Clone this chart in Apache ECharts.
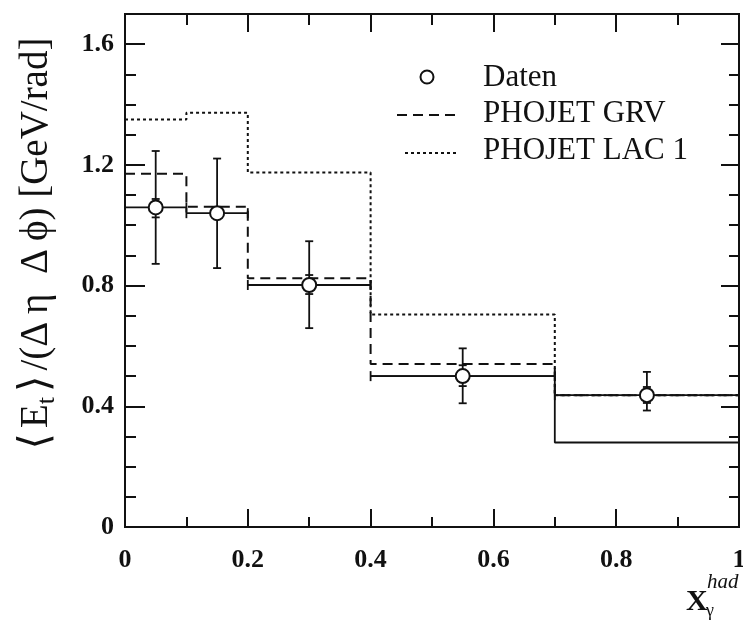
<!DOCTYPE html>
<html>
<head>
<meta charset="utf-8">
<script src="https://cdn.jsdelivr.net/npm/echarts@6/dist/echarts.min.js"></script>
<style>
  html, body { margin: 0; padding: 0; background: #fff; }
  #chart { width: 743px; height: 625px; }
</style>
</head>
<body>
<div id="chart"></div>
<script>
// bins in x_gamma^had
const binLo = [0, 0.1, 0.2, 0.4, 0.7];
const binHi = [0.1, 0.2, 0.4, 0.7, 1.0];
const binCenter = [0.05, 0.15, 0.3, 0.55, 0.85];

// Daten with total and statistical errors
const daten = [1.059, 1.040, 0.802, 0.500, 0.437];
const totLo = [0.872, 0.858, 0.659, 0.410, 0.386];
const totHi = [1.246, 1.221, 0.947, 0.592, 0.514];
const statLo = [1.026, 1.020, 0.772, 0.467, 0.411];
const statHi = [1.087, 1.060, 0.835, 0.536, 0.464];

// model histograms
const grv = [1.171, 1.061, 0.824, 0.540, 0.437];
const lac1 = [1.350, 1.373, 1.175, 0.704, 0.437];
const solidLow = [null, null, null, 0.500, 0.280];

const xTicks = ['0', '0.2', '0.4', '0.6', '0.8', '1'];
const yTicks = ['0', '0.4', '0.8', '1.2', '1.6'];

const serif = "'Liberation Serif', 'DejaVu Serif', serif";
const black = '#111';

function stepData(vals) {
  const pts = [];
  vals.forEach((v, i) => {
    if (v == null) return;
    pts.push([binLo[i], v]);
  });
  const last = vals.length - 1;
  pts.push([binHi[last], vals[last]]);
  return pts;
}

const datenRows = daten.map((v, i) =>
  [binLo[i], binHi[i], binCenter[i], v, totLo[i], totHi[i], statLo[i], statHi[i]]);

const chart = echarts.init(document.getElementById('chart'), null, { renderer: 'canvas' });

function xAxisDef(pos, interval, len, labels) {
  return {
    type: 'value', min: 0, max: 1, interval: interval, position: pos,
    axisLine: { show: true, onZero: false, lineStyle: { color: black, width: 2 } },
    axisTick: { show: true, inside: true, length: len, lineStyle: { color: black, width: 2 } },
    splitLine: { show: false },
    axisLabel: labels ? {
      show: true, margin: 20, color: black, fontFamily: serif, fontWeight: 'bold', fontSize: 26,
      formatter: v => { const s = xTicks.find(t => Math.abs(parseFloat(t) - v) < 1e-6); return s || ''; }
    } : { show: false }
  };
}

function yAxisDef(pos, interval, len, labels) {
  return {
    type: 'value', min: 0, max: 1.7, interval: interval, position: pos,
    axisLine: { show: true, onZero: false, lineStyle: { color: black, width: 2 } },
    axisTick: { show: true, inside: true, length: len, lineStyle: { color: black, width: 2 } },
    splitLine: { show: false },
    axisLabel: labels ? {
      show: true, margin: 11, color: black, fontFamily: serif, fontWeight: 'bold', fontSize: 26,
      formatter: v => { const s = yTicks.find(t => Math.abs(parseFloat(t) - v) < 1e-6); return s || ''; }
    } : { show: false }
  };
}

const option = {
  animation: false,
  backgroundColor: '#fff',
  grid: { left: 125, right: 4, top: 14, bottom: 98, outerBoundsMode: 'none' },
  xAxis: [
    xAxisDef('bottom', 0.2, 18, true),
    xAxisDef('bottom', 0.1, 10, false),
    xAxisDef('top', 0.2, 18, false),
    xAxisDef('top', 0.1, 11, false)
  ],
  yAxis: [
    yAxisDef('left', 0.4, 20, true),
    yAxisDef('left', 0.1, 11, false),
    yAxisDef('right', 0.4, 18, false),
    yAxisDef('right', 0.1, 10, false)
  ],
  series: [
    {
      name: 'PHOJET LAC 1', type: 'line', step: 'end', symbol: 'none',
      data: stepData(lac1),
      lineStyle: { color: black, width: 2, type: [3, 3] }
    },
    {
      name: 'PHOJET GRV', type: 'line', step: 'end', symbol: 'none',
      data: stepData(grv),
      lineStyle: { color: black, width: 2, type: [10, 6] }
    },
    {
      name: 'solid', type: 'line', step: 'end', symbol: 'none',
      data: stepData(solidLow),
      lineStyle: { color: black, width: 1.8 }
    },
    {
      name: 'Daten', type: 'custom',
      data: datenRows,
      encode: { x: [0, 1, 2], y: [3, 4, 5, 6, 7] },
      z: 10,
      renderItem: function (params, api) {
        const pLo = api.coord([api.value(0), api.value(3)]);
        const pHi = api.coord([api.value(1), api.value(3)]);
        const c = api.coord([api.value(2), api.value(3)]);
        const tLo = api.coord([api.value(2), api.value(4)]);
        const tHi = api.coord([api.value(2), api.value(5)]);
        const sLo = api.coord([api.value(2), api.value(6)]);
        const sHi = api.coord([api.value(2), api.value(7)]);
        const st = { stroke: black, lineWidth: 1.8 };
        const ln = (x1, y1, x2, y2) => ({ type: 'line', shape: { x1, y1, x2, y2 }, style: st });
        return {
          type: 'group',
          children: [
            ln(pLo[0], pLo[1], pHi[0], pHi[1]),
            ln(pLo[0], pLo[1] - 5, pLo[0], pLo[1] + 5),
            ln(pHi[0], pHi[1] - 5, pHi[0], pHi[1] + 5),
            ln(tLo[0], tLo[1], tHi[0], tHi[1]),
            ln(tLo[0] - 4, tLo[1], tLo[0] + 4, tLo[1]),
            ln(tHi[0] - 4, tHi[1], tHi[0] + 4, tHi[1]),
            ln(sLo[0] - 4, sLo[1], sLo[0] + 4, sLo[1]),
            ln(sHi[0] - 4, sHi[1], sHi[0] + 4, sHi[1]),
            { type: 'circle', shape: { cx: c[0], cy: c[1], r: 7 }, style: { fill: '#fff', stroke: black, lineWidth: 2 } }
          ]
        };
      }
    }
  ],
  graphic: [
    // y axis title
    {
      type: 'text', x: 37, y: 246, rotation: Math.PI / 2,
      style: {
        text: '{b|⟨}{a|E}{s|t}{b|⟩}{a|/(Δ\u2009η  Δ\u2009ϕ) [GeV/rad]}',
        align: 'center', verticalAlign: 'middle',
        rich: {
          a: { fontFamily: serif, fontSize: 39, fill: black, lineHeight: 46 },
          b: { fontFamily: serif, fontSize: 42, fill: black, lineHeight: 46, padding: [0, 5, 0, 5] },
          s: { fontFamily: serif, fontSize: 26, fill: black, lineHeight: 28, verticalAlign: 'bottom' }
        }
      }
    },
    // legend
    { type: 'circle', shape: { cx: 427, cy: 77, r: 6.5 }, style: { fill: '#fff', stroke: black, lineWidth: 2 } },
    { type: 'text', left: 483, top: 62, style: { text: 'Daten', font: '31px ' + serif, fill: black } },
    { type: 'line', shape: { x1: 397, y1: 115, x2: 457, y2: 115 }, style: { stroke: black, lineWidth: 2, lineDash: [10, 6] } },
    { type: 'text', left: 483, top: 98, style: { text: 'PHOJET GRV', font: '31px ' + serif, fill: black } },
    { type: 'line', shape: { x1: 405, y1: 153, x2: 457, y2: 153 }, style: { stroke: black, lineWidth: 2, lineDash: [3, 3] } },
    { type: 'text', left: 483, top: 135, style: { text: 'PHOJET LAC 1', font: '31px ' + serif, fill: black } },
    // x axis title
    { type: 'text', left: 686, top: 587, style: { text: 'X', font: 'bold 30px ' + serif, fill: black } },
    { type: 'text', left: 707, top: 572, style: { text: 'had', font: 'italic 21px ' + serif, fill: black } },
    { type: 'text', left: 706, top: 602, style: { text: 'γ', font: '18px ' + serif, fill: black } }
  ]
};

chart.setOption(option);
</script>
</body>
</html>
